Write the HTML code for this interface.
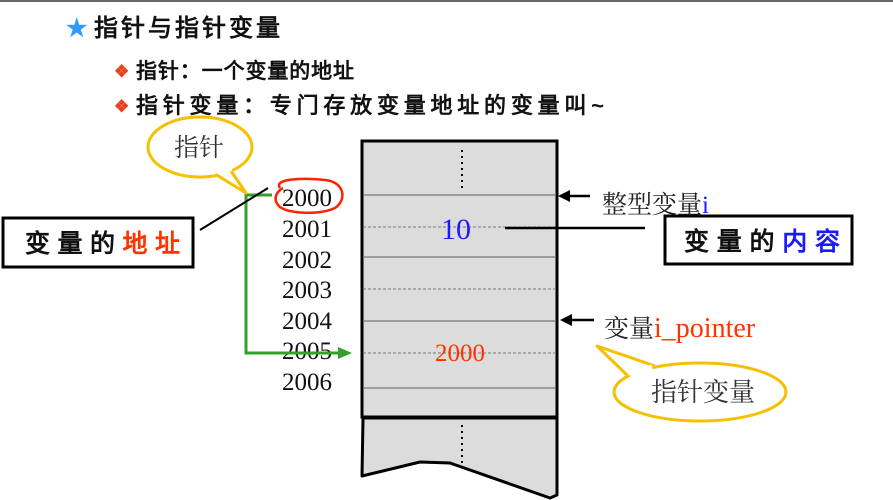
<!DOCTYPE html>
<html><head><meta charset="utf-8"><style>
html,body{margin:0;padding:0;background:#fff}
svg{display:block}
text{font-family:"Liberation Serif","Noto Serif CJK SC",serif}
.h{font-family:"Liberation Sans","WenQuanYi Zen Hei",sans-serif;font-weight:bold}
</style></head><body>
<svg width="893" height="500" viewBox="0 0 893 500" xmlns="http://www.w3.org/2000/svg">
<rect x="0" y="0" width="893" height="2" fill="#666"/>
<text x="66" y="36" font-size="24" fill="#3399ff" class="h">★</text>
<text x="94" y="36" font-size="24" class="h" fill="#111" letter-spacing="3">指针与指针变量</text>
<text x="114" y="77" font-size="17" fill="#e8401c" class="h">❖</text>
<text x="136" y="78" font-size="21" class="h" fill="#111" textLength="218" lengthAdjust="spacing">指针：一个变量的地址</text>
<text x="114" y="112" font-size="17" fill="#e8401c" class="h">❖</text>
<text x="136" y="113" font-size="22" class="h" fill="#111" textLength="468" lengthAdjust="spacing">指针变量：专门存放变量地址的变量叫~</text>

<!-- memory block -->
<rect x="362" y="141" width="195" height="276" fill="#dcdcdc" stroke="#000" stroke-width="3"/>
<g stroke="#777" stroke-width="1.2">
<line x1="363" y1="195" x2="556" y2="195"/>
<line x1="363" y1="257" x2="556" y2="257"/>
<line x1="363" y1="321" x2="556" y2="321"/>
<line x1="363" y1="388" x2="556" y2="388"/>
</g>
<g stroke="#777" stroke-width="1" stroke-dasharray="3,2">
<line x1="363" y1="227" x2="556" y2="227"/>
<line x1="363" y1="289" x2="556" y2="289"/>
<line x1="363" y1="353" x2="556" y2="353"/>
</g>
<line x1="462" y1="150" x2="462" y2="190" stroke="#000" stroke-width="2" stroke-dasharray="2,4"/>
<polygon points="363,418 557,418 557,495 550,498 450,463 420,462 362,476" fill="#dcdcdc" stroke="#000" stroke-width="3" stroke-linejoin="round"/>
<line x1="462" y1="425" x2="462" y2="465" stroke="#000" stroke-width="2" stroke-dasharray="2,4"/>
<text x="456" y="239" font-size="30" fill="#1a1aff" text-anchor="middle">10</text>
<text x="460" y="361" font-size="25" fill="#ff3300" text-anchor="middle">2000</text>

<!-- addresses -->
<g font-size="25" fill="#111">
<text x="282" y="206">2000</text><text x="282" y="237">2001</text><text x="282" y="268">2002</text>
<text x="282" y="298">2003</text><text x="282" y="329">2004</text><text x="282" y="359">2005</text>
<text x="282" y="390">2006</text>
</g>
<path d="M280,188 C273,178 305,178 325,180 C345,182 347,200 335,208 C320,215 290,214 280,207 C272,200 276,192 283,188" fill="none" stroke="#ff2200" stroke-width="2.5"/>

<!-- green arrow -->
<polyline points="272,195 246,195 246,353 340,353" fill="none" stroke="#33a02c" stroke-width="3"/>
<polygon points="352,353 338,347 338,359" fill="#33a02c"/>

<!-- 指针 bubble -->
<ellipse cx="200" cy="147" rx="52" ry="30" fill="#fff" stroke="#f5c000" stroke-width="3"/>
<path d="M215,174 L246,193 L231,171" fill="#fff" stroke="#f5c000" stroke-width="3" stroke-linejoin="round"/>
<path d="M214,172 L232,169" stroke="#fff" stroke-width="4"/>
<text x="199" y="156" font-size="25" fill="#333" text-anchor="middle">指针</text>

<!-- address box -->
<line x1="200" y1="230" x2="268" y2="188" stroke="#000" stroke-width="2"/>
<rect x="3" y="218" width="190" height="49" fill="#fff" stroke="#000" stroke-width="3"/>
<text x="25" y="252" font-size="25" class="h" fill="#111" textLength="155" lengthAdjust="spacing">变量的<tspan fill="#ff3300">地址</tspan></text>

<!-- right labels -->
<line x1="567" y1="196" x2="590" y2="196" stroke="#000" stroke-width="2.5"/>
<polygon points="558,196 570,190 570,202" fill="#000"/>
<text x="602" y="213" font-size="25" fill="#222">整型变量<tspan fill="#1a1aff">i</tspan></text>
<line x1="505" y1="228" x2="645" y2="228" stroke="#000" stroke-width="2.5"/>
<rect x="665" y="216" width="187" height="48" fill="#fff" stroke="#000" stroke-width="3"/>
<text x="684" y="250" font-size="25" class="h" fill="#111" textLength="156" lengthAdjust="spacing">变量的<tspan fill="#1a1aff">内容</tspan></text>
<line x1="570" y1="320" x2="594" y2="320" stroke="#000" stroke-width="2.5"/>
<polygon points="560,320 572,314 572,326" fill="#000"/>
<text x="604" y="337" font-size="25" fill="#222">变量<tspan fill="#ff3300" font-size="28">i_pointer</tspan></text>

<!-- 指针变量 bubble -->
<ellipse cx="700" cy="392" rx="86" ry="29" fill="#fff" stroke="#f5c000" stroke-width="3"/>
<path d="M628,376 L597,346 L655,366" fill="#fff" stroke="#f5c000" stroke-width="3" stroke-linejoin="round"/>
<path d="M630,374 L652,367" stroke="#fff" stroke-width="5"/>
<text x="703" y="401" font-size="26" fill="#333" text-anchor="middle">指针变量</text>
</svg>
</body></html>
